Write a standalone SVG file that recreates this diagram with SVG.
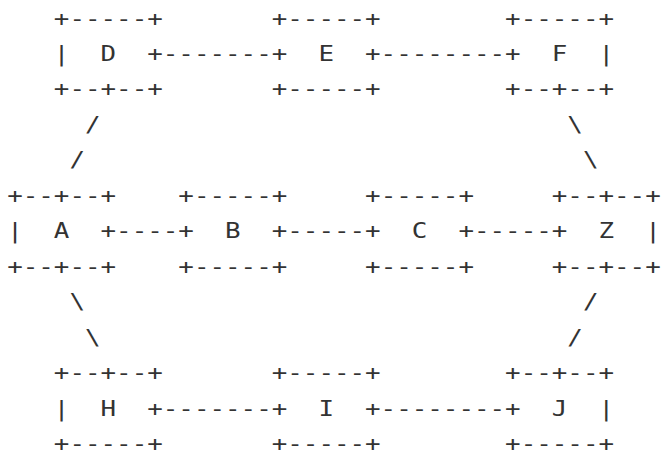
<svg xmlns="http://www.w3.org/2000/svg" width="662" height="456" viewBox="0 0 662 456">
<style>
text { font-family: "DejaVu Sans Mono", "Liberation Mono", monospace; font-size: 20.5px; fill: #333333; }
</style>
<rect width="662" height="456" fill="#ffffff"/>
<g id="connectors">
<text x="162.8" y="61" textLength="108.92" lengthAdjust="spacingAndGlyphs">-------</text>
<text x="380.64" y="61" textLength="124.48" lengthAdjust="spacingAndGlyphs">--------</text>
<text x="85.0" y="131.9" textLength="15.56" lengthAdjust="spacingAndGlyphs">/</text>
<text x="69.44" y="167.4" textLength="15.56" lengthAdjust="spacingAndGlyphs">/</text>
<text x="567.36" y="131.9" textLength="15.56" lengthAdjust="spacingAndGlyphs">\</text>
<text x="582.92" y="167.4" textLength="15.56" lengthAdjust="spacingAndGlyphs">\</text>
<text x="116.12" y="238.3" textLength="62.24" lengthAdjust="spacingAndGlyphs">----</text>
<text x="287.28" y="238.3" textLength="77.8" lengthAdjust="spacingAndGlyphs">-----</text>
<text x="474.0" y="238.3" textLength="77.8" lengthAdjust="spacingAndGlyphs">-----</text>
<text x="69.44" y="309.3" textLength="15.56" lengthAdjust="spacingAndGlyphs">\</text>
<text x="85.0" y="344.7" textLength="15.56" lengthAdjust="spacingAndGlyphs">\</text>
<text x="582.92" y="309.3" textLength="15.56" lengthAdjust="spacingAndGlyphs">/</text>
<text x="567.36" y="344.7" textLength="15.56" lengthAdjust="spacingAndGlyphs">/</text>
<text x="162.8" y="415.7" textLength="108.92" lengthAdjust="spacingAndGlyphs">-------</text>
<text x="380.64" y="415.7" textLength="124.48" lengthAdjust="spacingAndGlyphs">--------</text>
</g>
<g id="node-D">
<text x="53.88" y="25.5" textLength="108.92" lengthAdjust="spacingAndGlyphs">+-----+</text>
<text x="53.88" y="61" textLength="15.56" lengthAdjust="spacingAndGlyphs">|</text>
<text x="100.56" y="61" textLength="15.56" lengthAdjust="spacingAndGlyphs">D</text>
<text x="147.24" y="61" textLength="15.56" lengthAdjust="spacingAndGlyphs">+</text>
<text x="53.88" y="96.4" textLength="108.92" lengthAdjust="spacingAndGlyphs">+--+--+</text>
</g>
<g id="node-E">
<text x="271.72" y="25.5" textLength="108.92" lengthAdjust="spacingAndGlyphs">+-----+</text>
<text x="271.72" y="61" textLength="15.56" lengthAdjust="spacingAndGlyphs">+</text>
<text x="318.4" y="61" textLength="15.56" lengthAdjust="spacingAndGlyphs">E</text>
<text x="365.08" y="61" textLength="15.56" lengthAdjust="spacingAndGlyphs">+</text>
<text x="271.72" y="96.4" textLength="108.92" lengthAdjust="spacingAndGlyphs">+-----+</text>
</g>
<g id="node-F">
<text x="505.12" y="25.5" textLength="108.92" lengthAdjust="spacingAndGlyphs">+-----+</text>
<text x="505.12" y="61" textLength="15.56" lengthAdjust="spacingAndGlyphs">+</text>
<text x="551.8" y="61" textLength="15.56" lengthAdjust="spacingAndGlyphs">F</text>
<text x="598.48" y="61" textLength="15.56" lengthAdjust="spacingAndGlyphs">|</text>
<text x="505.12" y="96.4" textLength="108.92" lengthAdjust="spacingAndGlyphs">+--+--+</text>
</g>
<g id="node-A">
<text x="7.2" y="202.9" textLength="108.92" lengthAdjust="spacingAndGlyphs">+--+--+</text>
<text x="7.2" y="238.3" textLength="15.56" lengthAdjust="spacingAndGlyphs">|</text>
<text x="53.88" y="238.3" textLength="15.56" lengthAdjust="spacingAndGlyphs">A</text>
<text x="100.56" y="238.3" textLength="15.56" lengthAdjust="spacingAndGlyphs">+</text>
<text x="7.2" y="273.8" textLength="108.92" lengthAdjust="spacingAndGlyphs">+--+--+</text>
</g>
<g id="node-B">
<text x="178.36" y="202.9" textLength="108.92" lengthAdjust="spacingAndGlyphs">+-----+</text>
<text x="178.36" y="238.3" textLength="15.56" lengthAdjust="spacingAndGlyphs">+</text>
<text x="225.04" y="238.3" textLength="15.56" lengthAdjust="spacingAndGlyphs">B</text>
<text x="271.72" y="238.3" textLength="15.56" lengthAdjust="spacingAndGlyphs">+</text>
<text x="178.36" y="273.8" textLength="108.92" lengthAdjust="spacingAndGlyphs">+-----+</text>
</g>
<g id="node-C">
<text x="365.08" y="202.9" textLength="108.92" lengthAdjust="spacingAndGlyphs">+-----+</text>
<text x="365.08" y="238.3" textLength="15.56" lengthAdjust="spacingAndGlyphs">+</text>
<text x="411.76" y="238.3" textLength="15.56" lengthAdjust="spacingAndGlyphs">C</text>
<text x="458.44" y="238.3" textLength="15.56" lengthAdjust="spacingAndGlyphs">+</text>
<text x="365.08" y="273.8" textLength="108.92" lengthAdjust="spacingAndGlyphs">+-----+</text>
</g>
<g id="node-Z">
<text x="551.8" y="202.9" textLength="108.92" lengthAdjust="spacingAndGlyphs">+--+--+</text>
<text x="551.8" y="238.3" textLength="15.56" lengthAdjust="spacingAndGlyphs">+</text>
<text x="598.48" y="238.3" textLength="15.56" lengthAdjust="spacingAndGlyphs">Z</text>
<text x="645.16" y="238.3" textLength="15.56" lengthAdjust="spacingAndGlyphs">|</text>
<text x="551.8" y="273.8" textLength="108.92" lengthAdjust="spacingAndGlyphs">+--+--+</text>
</g>
<g id="node-H">
<text x="53.88" y="380.2" textLength="108.92" lengthAdjust="spacingAndGlyphs">+--+--+</text>
<text x="53.88" y="415.7" textLength="15.56" lengthAdjust="spacingAndGlyphs">|</text>
<text x="100.56" y="415.7" textLength="15.56" lengthAdjust="spacingAndGlyphs">H</text>
<text x="147.24" y="415.7" textLength="15.56" lengthAdjust="spacingAndGlyphs">+</text>
<text x="53.88" y="451.1" textLength="108.92" lengthAdjust="spacingAndGlyphs">+-----+</text>
</g>
<g id="node-I">
<text x="271.72" y="380.2" textLength="108.92" lengthAdjust="spacingAndGlyphs">+-----+</text>
<text x="271.72" y="415.7" textLength="15.56" lengthAdjust="spacingAndGlyphs">+</text>
<text x="318.4" y="415.7" textLength="15.56" lengthAdjust="spacingAndGlyphs">I</text>
<text x="365.08" y="415.7" textLength="15.56" lengthAdjust="spacingAndGlyphs">+</text>
<text x="271.72" y="451.1" textLength="108.92" lengthAdjust="spacingAndGlyphs">+-----+</text>
</g>
<g id="node-J">
<text x="505.12" y="380.2" textLength="108.92" lengthAdjust="spacingAndGlyphs">+--+--+</text>
<text x="505.12" y="415.7" textLength="15.56" lengthAdjust="spacingAndGlyphs">+</text>
<text x="551.8" y="415.7" textLength="15.56" lengthAdjust="spacingAndGlyphs">J</text>
<text x="598.48" y="415.7" textLength="15.56" lengthAdjust="spacingAndGlyphs">|</text>
<text x="505.12" y="451.1" textLength="108.92" lengthAdjust="spacingAndGlyphs">+-----+</text>
</g>
</svg>
